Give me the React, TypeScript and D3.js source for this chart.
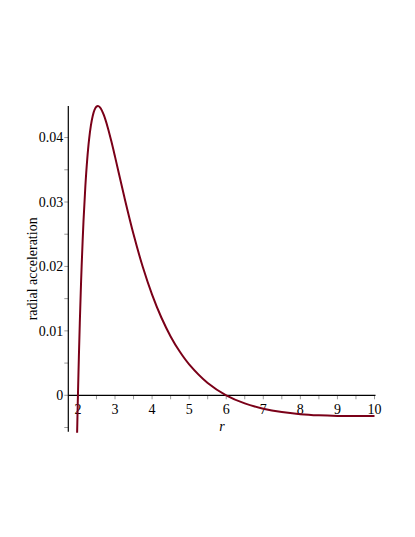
import React from "react";
import * as d3 from "d3";

const rValues = [1.975, 1.99, 2.0, 2.025, 2.05, 2.075, 2.1, 2.15, 2.2, 2.25, 2.3, 2.35, 2.4, 2.45, 2.5, 2.55, 2.6, 2.65, 2.7, 2.8, 2.9, 3.0, 3.1, 3.25, 3.5, 3.75, 4.0, 4.25, 4.5, 4.75, 5.0, 5.5, 6.0, 6.5, 7.0, 7.5, 8.0, 8.5, 9.0, 9.5, 10.0];
const accel = [-0.00661, -0.00256, 0, 0.00591, 0.01118, 0.01588, 0.02005, 0.02703, 0.03244, 0.03658, 0.03967, 0.04189, 0.0434, 0.04434, 0.0448, 0.04488, 0.04464, 0.04415, 0.04347, 0.04165, 0.03945, 0.03704, 0.03454, 0.03081, 0.02499, 0.01991, 0.01563, 0.01207, 0.00914, 0.00675, 0.0048, 0.00191, 0, -0.00126, -0.00208, -0.00261, -0.00293, -0.00311, -0.0032, -0.00322, -0.0032];

const xTickLabels = [2, 3, 4, 5, 6, 7, 8, 9, 10];
const xMinorTicks = [2.5, 3.5, 4.5, 5.5, 6.5, 7.5, 8.5, 9.5];
const yTickLabels = [0, 0.01, 0.02, 0.03, 0.04];
const yMinorTicks = [-0.005, 0.005, 0.015, 0.025, 0.035];

const xLabel = "r";
const yLabel = "radial acceleration";

export default function App() {
  const W = 415, H = 537;
  const x = d3.scaleLinear().domain([1.74, 10]).range([68.3, 374.5]);
  const y = d3.scaleLinear().domain([-0.00565, 0.0449]).range([431.7, 106]);
  const data = rValues.map((r, i) => [r, accel[i]] as [number, number]);
  const line = d3
    .line<[number, number]>()
    .x((d) => x(d[0]))
    .y((d) => y(d[1]))
    .curve(d3.curveCatmullRom.alpha(0.5));
  const font = "'Liberation Serif', 'Times New Roman', serif";
  const tickColor = "#9a9a9a";
  const y0 = y(0);
  return (
    <svg width={W} height={H} style={{ position: "absolute", left: 0, top: 0, background: "#fff" }}>
      <defs>
        <clipPath id="plotclip">
          <rect x={60} y={100} width={330} height={y(-0.00565) - 100 + 1} />
        </clipPath>
      </defs>
      {/* x ticks */}
      {[...xTickLabels, ...xMinorTicks].map((t) => (
        <line key={"xt" + t} x1={x(t)} x2={x(t)} y1={y0} y2={y0 + 4} stroke={tickColor} strokeWidth={1} />
      ))}
      {/* y ticks */}
      {[...yTickLabels, ...yMinorTicks].map((t) => (
        <line key={"yt" + t} x1={x(1.74) - 4} x2={x(1.74)} y1={y(t)} y2={y(t)} stroke={tickColor} strokeWidth={1} />
      ))}
      {/* axes */}
      <line x1={x(1.74)} x2={x(10) + 1} y1={y0} y2={y0} stroke="#000" strokeWidth={1.2} />
      <line x1={x(1.74)} x2={x(1.74)} y1={y(0.0449)} y2={y(-0.00565)} stroke="#000" strokeWidth={1.2} />
      {/* x labels */}
      {xTickLabels.map((t) => (
        <text key={"xl" + t} x={x(t)} y={y0 + 18.5} textAnchor="middle" fontFamily={font} fontSize={14} fill="#000">
          {t}
        </text>
      ))}
      {/* y labels */}
      {yTickLabels.map((t) => (
        <text key={"yl" + t} x={x(1.74) - 5} y={y(t) + 4.7} textAnchor="end" fontFamily={font} fontSize={14} fill="#000">
          {t === 0 ? "0" : t.toFixed(2)}
        </text>
      ))}
      <text x={222} y={431} textAnchor="middle" fontFamily={font} fontSize={14} fontStyle="italic" fill="#000">
        {xLabel}
      </text>
      <text
        transform={`translate(37, ${(y(0.0449) + y(-0.00565)) / 2}) rotate(-90)`}
        textAnchor="middle"
        fontFamily={font}
        fontSize={14}
        fill="#000"
      >
        {yLabel}
      </text>
      <path d={line(data) || ""} fill="none" stroke="#7a0018" strokeWidth={2} clipPath="url(#plotclip)" />
    </svg>
  );
}
